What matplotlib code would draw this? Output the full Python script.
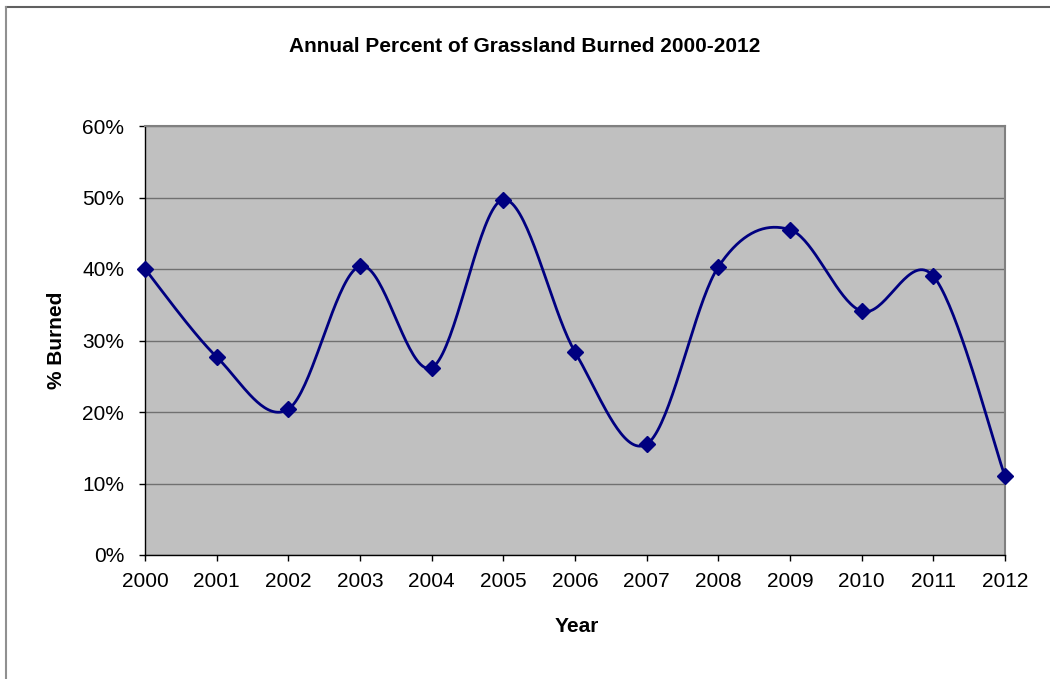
import numpy as np
import matplotlib.pyplot as plt

plt.rcParams['font.family'] = ['Liberation Sans', 'DejaVu Sans']

years = [2000, 2001, 2002, 2003, 2004, 2005, 2006, 2007, 2008, 2009, 2010, 2011, 2012]
burned = [40.0, 27.7, 20.4, 40.4, 26.2, 49.7, 28.4, 15.5, 40.3, 45.5, 34.1, 39.0, 11.0]
ytick_vals = [0, 10, 20, 30, 40, 50, 60]


def smooth(xs, ys, n=40):
    # bezier smoothing through every point, like a spreadsheet "smoothed line"
    xs = np.asarray(xs, float)
    ys = np.asarray(ys, float)
    px = np.concatenate([[xs[0]], xs, [xs[-1]]])
    py = np.concatenate([[ys[0]], ys, [ys[-1]]])
    outx, outy = [], []
    t = np.linspace(0, 1, n)
    for i in range(1, len(px) - 2):
        p0 = np.array([px[i], py[i]])
        p3 = np.array([px[i + 1], py[i + 1]])
        p1 = p0 + (np.array([px[i + 1], py[i + 1]]) - np.array([px[i - 1], py[i - 1]])) / 6
        p2 = p3 - (np.array([px[i + 2], py[i + 2]]) - np.array([px[i], py[i]])) / 6
        b = ((1 - t) ** 3)[:, None] * p0 + (3 * (1 - t) ** 2 * t)[:, None] * p1 \
            + (3 * (1 - t) * t ** 2)[:, None] * p2 + (t ** 3)[:, None] * p3
        outx.extend(b[:, 0])
        outy.extend(b[:, 1])
    return np.array(outx), np.array(outy)


fig = plt.figure(figsize=(10.5, 6.79), dpi=100)
ax = fig.add_axes([145 / 1050, 1 - 555 / 679, 860 / 1050, 429 / 679])
ax.set_facecolor('#C0C0C0')

sx, sy = smooth(years, burned)
ax.plot(sx, sy, color='#000080', lw=2, zorder=3, clip_on=False)
ax.plot(years, burned, 'D', color='#000080', ms=8, zorder=4, clip_on=False)

ax.set_xlim(2000, 2012)
ax.set_ylim(0, 60)
ax.set_xticks(years)
ax.set_xticklabels([str(y) for y in years])
ax.set_yticks(ytick_vals)
ax.set_yticklabels(['%d%%' % v for v in ytick_vals])
ax.tick_params(labelsize=15, length=4, width=1, color='black', direction='out')
ax.tick_params(axis='x', pad=8)
ax.tick_params(axis='y', pad=11)
ax.grid(axis='y', color='#707070', lw=1)
ax.set_axisbelow(True)
for s in ['top', 'right']:
    ax.spines[s].set_color('#808080')
    ax.spines[s].set_linewidth(1.5)
for s in ['left', 'bottom']:
    ax.spines[s].set_color('black')
    ax.spines[s].set_linewidth(1)

fig.text(525 / 1050, 1 - 47 / 679, 'Annual Percent of Grassland Burned 2000-2012',
         ha='center', va='center', fontsize=15, fontweight='bold')
fig.text(577 / 1050, 1 - 626 / 679, 'Year', ha='center', va='center',
         fontsize=15, fontweight='bold')
fig.text(57 / 1050, 1 - 340 / 679, '% Burned', ha='center', va='center',
         rotation=90, fontsize=15, fontweight='bold')

# outer chart frame
fig.add_artist(plt.Line2D([6 / 1050, 1], [1 - 7 / 679, 1 - 7 / 679], color='#606060', lw=1.5))
fig.add_artist(plt.Line2D([6 / 1050, 6 / 1050], [0, 1 - 7 / 679], color='#909090', lw=1.5))

plt.savefig('out.png', dpi=100)
